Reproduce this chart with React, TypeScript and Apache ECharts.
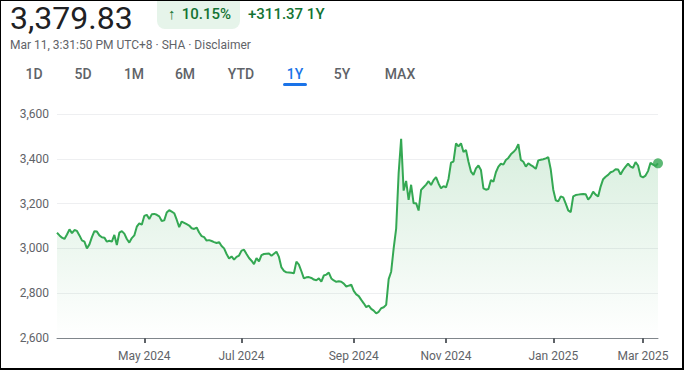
import React, { useEffect, useRef } from "react";
import * as echarts from "echarts";

// ---- data ----
const startDate = "2024-03-11";
const endDate = "2025-03-11";
const marketHolidays = [
  "2024-04-04", "2024-04-05", "2024-05-01", "2024-05-02", "2024-05-03",
  "2024-06-10", "2024-09-16", "2024-09-17", "2024-10-01", "2024-10-02",
  "2024-10-03", "2024-10-04", "2024-10-07", "2025-01-01", "2025-01-28",
  "2025-01-29", "2025-01-30", "2025-01-31", "2025-02-03", "2025-02-04",
];
const closeValues = [
  3070, 3058, 3048, 3042, 3062, 3085, 3068, 3082, 3078, 3058,
  3036, 3030, 3000, 3018, 3050, 3077, 3075, 3058, 3050, 3048,
  3030, 3034, 3030, 3060, 3015, 3070, 3077, 3066, 3042, 3026,
  3046, 3058, 3097, 3112, 3106, 3145, 3150, 3131, 3152, 3154,
  3150, 3143, 3122, 3125, 3160, 3171, 3164, 3157, 3128, 3095,
  3120, 3114, 3108, 3102, 3090, 3087, 3093, 3071, 3055, 3050,
  3035, 3037, 3033, 3028, 3024, 3028, 3011, 3000, 2975, 2955,
  2964, 2950, 2962, 2968, 2990, 2994, 2975, 2957, 2945, 2930,
  2957, 2942, 2970, 2975, 2976, 2977, 2967, 2976, 2985, 2962,
  2915, 2900, 2893, 2892, 2891, 2889, 2941, 2928, 2898, 2866,
  2871, 2872, 2868, 2861, 2858, 2866, 2852, 2879, 2883, 2892,
  2866, 2857, 2851, 2853, 2851, 2843, 2830, 2834, 2838, 2810,
  2795, 2787, 2770, 2755, 2738, 2744, 2730, 2722, 2710, 2717,
  2733, 2737, 2748, 2863, 2896, 3000, 3088, 3336, 3489, 3258,
  3301, 3217, 3284, 3201, 3202, 3169, 3261, 3273, 3285, 3300,
  3283, 3305, 3318, 3290, 3268, 3278, 3272, 3310, 3383, 3388,
  3469, 3455, 3469, 3430, 3439, 3387, 3343, 3328, 3357, 3370,
  3350, 3268, 3262, 3265, 3305, 3298, 3340, 3365, 3378, 3374,
  3395, 3404, 3420, 3430, 3442, 3465, 3395, 3387, 3365, 3380,
  3372, 3365, 3355, 3393, 3396, 3398, 3402, 3407, 3352, 3262,
  3215, 3210, 3232, 3228, 3200, 3170, 3162, 3232, 3238, 3240,
  3242, 3243, 3242, 3218, 3231, 3253, 3240, 3232, 3276, 3309,
  3320, 3328, 3340, 3344, 3353, 3352, 3330, 3350, 3365, 3378,
  3365, 3360, 3385, 3370, 3323, 3317, 3325, 3345, 3382, 3374,
  3368, 3379.83,
];
const yMin = 2600;
const yMax = 3600;
const yStep = 200;
const labelMonths = [0, 2, 4, 6, 8, 10];
const monthNames = ["Jan", "Feb", "Mar", "Apr", "May", "Jun", "Jul", "Aug", "Sep", "Oct", "Nov", "Dec"];
const lastPriceText = "3,379.83";
const changeArrow = "↑";
const changePctText = "10.15%";
const changeAbsText = "+311.37 1Y";
const timestampText = "Mar 11, 3:31:50 PM UTC+8 · SHA · Disclaimer";
const rangeTabs = ["1D", "5D", "1M", "6M", "YTD", "1Y", "5Y", "MAX"];
const activeTab = "1Y";

function tradingDates(): string[] {
  const out: string[] = [];
  const hol = new Set(marketHolidays);
  const [sy, sm, sd] = startDate.split("-").map(Number);
  const [ey, em, ed] = endDate.split("-").map(Number);
  let t = Date.UTC(sy, sm - 1, sd);
  const end = Date.UTC(ey, em - 1, ed);
  while (t <= end) {
    const d = new Date(t);
    const wd = d.getUTCDay();
    const s = d.toISOString().slice(0, 10);
    if (wd !== 0 && wd !== 6 && !hol.has(s)) out.push(s);
    t += 86400000;
  }
  return out;
}

const FONT = "Roboto, Arial, sans-serif";
const GREEN = "#34a853";

export default function App() {
  const ref = useRef<HTMLDivElement>(null);
  useEffect(() => {
    if (!ref.current) return;
    const chart = echarts.init(ref.current, undefined, { renderer: "svg" });
    const dates = tradingDates();
    const isLabel = (i: number) => {
      if (i === 0) return false;
      const m = Number(dates[i].slice(5, 7)) - 1;
      const pm = Number(dates[i - 1].slice(5, 7)) - 1;
      return m !== pm && labelMonths.includes(m);
    };
    const tabCenters = [34, 83, 134, 185, 241, 295, 342, 400];
    const lastIdx = closeValues.length - 1;

    const graphics: any[] = [
      { type: "text", x: 10, y: 17.5, style: { text: lastPriceText, fill: "#202124", font: `400 32px ${FONT}`, lineHeight: 30, align: "left", verticalAlign: "middle" } },
      { type: "rect", shape: { x: 157, y: -8, width: 83, height: 37, r: 8 }, style: { fill: "#e6f4ea" } },
      { type: "text", x: 168, y: 14, style: { text: changeArrow, fill: "#137333", font: `400 15px ${FONT}`, align: "left", verticalAlign: "middle" } },
      { type: "text", x: 231, y: 14, style: { text: changePctText, fill: "#137333", font: `500 15px ${FONT}`, align: "right", verticalAlign: "middle" } },
      { type: "text", x: 248, y: 14, style: { text: changeAbsText, fill: "#137333", font: `500 15px ${FONT}`, align: "left", verticalAlign: "middle" } },
      { type: "text", x: 10, y: 45, style: { text: timestampText, fill: "#5f6368", font: `400 12px ${FONT}`, align: "left", verticalAlign: "middle" } },
    ];
    rangeTabs.forEach((t, i) => {
      graphics.push({
        type: "text",
        x: tabCenters[i],
        y: 74,
        style: { text: t, fill: t === activeTab ? "#1a73e8" : "#5f6368", font: `500 14px ${FONT}`, align: "center", verticalAlign: "middle" },
      });
    });
    const ai = rangeTabs.indexOf(activeTab);
    graphics.push({ type: "rect", shape: { x: tabCenters[ai] - 12, y: 83, width: 24, height: 3, r: 1.5 }, style: { fill: "#1a73e8" } });

    chart.setOption({
      animation: false,
      grid: { left: 57, right: 27, top: 114, bottom: 32 },
      xAxis: {
        type: "category",
        data: dates,
        boundaryGap: false,
        axisLine: { lineStyle: { color: "#80868b", width: 1 } },
        axisTick: { show: true, interval: (i: number) => isLabel(i), length: 5, lineStyle: { color: "#5f6368", width: 2 } },
        axisLabel: {
          interval: (i: number) => isLabel(i),
          formatter: (v: string) => `${monthNames[Number(v.slice(5, 7)) - 1]} ${v.slice(0, 4)}`,
          color: "#5f6368",
          fontSize: 12,
          fontFamily: FONT,
          margin: 12,
        },
        splitLine: { show: false },
      },
      yAxis: {
        type: "value",
        min: yMin,
        max: yMax,
        interval: yStep,
        axisLine: { show: false },
        axisTick: { show: false },
        axisLabel: {
          color: "#5f6368",
          fontSize: 12,
          fontFamily: FONT,
          margin: 8,
          formatter: (v: number) => v.toLocaleString("en-US"),
        },
        splitLine: { lineStyle: { color: "#eeeff1", width: 1 } },
      },
      series: [
        {
          type: "line",
          data: closeValues,
          symbol: "none",
          lineStyle: { color: GREEN, width: 2 },
          areaStyle: {
            color: new echarts.graphic.LinearGradient(0, 0, 0, 1, [
              { offset: 0, color: "rgba(52,168,83,0.28)" },
              { offset: 1, color: "rgba(52,168,83,0)" },
            ]),
          },
          z: 2,
        },
        {
          type: "scatter",
          data: [[lastIdx, closeValues[lastIdx]]],
          symbol: "circle",
          symbolSize: 10,
          itemStyle: { color: GREEN },
          z: 3,
        },
      ],
      graphic: graphics,
    });
    return () => chart.dispose();
  }, []);

  return (
    <div style={{ position: "fixed", left: 0, top: 0, width: 685, height: 370, background: "#fff" }}>
      <div ref={ref} style={{ position: "absolute", left: 0, top: 0, width: 685, height: 370 }} />
      <div
        style={{
          position: "absolute",
          left: 0,
          top: 0,
          width: 684,
          height: 370,
          boxSizing: "border-box",
          borderLeft: "1px solid #000",
          borderTop: "1px solid #000",
          borderRight: "2px solid #000",
          borderBottom: "2px solid #000",
          pointerEvents: "none",
        }}
      />
    </div>
  );
}
